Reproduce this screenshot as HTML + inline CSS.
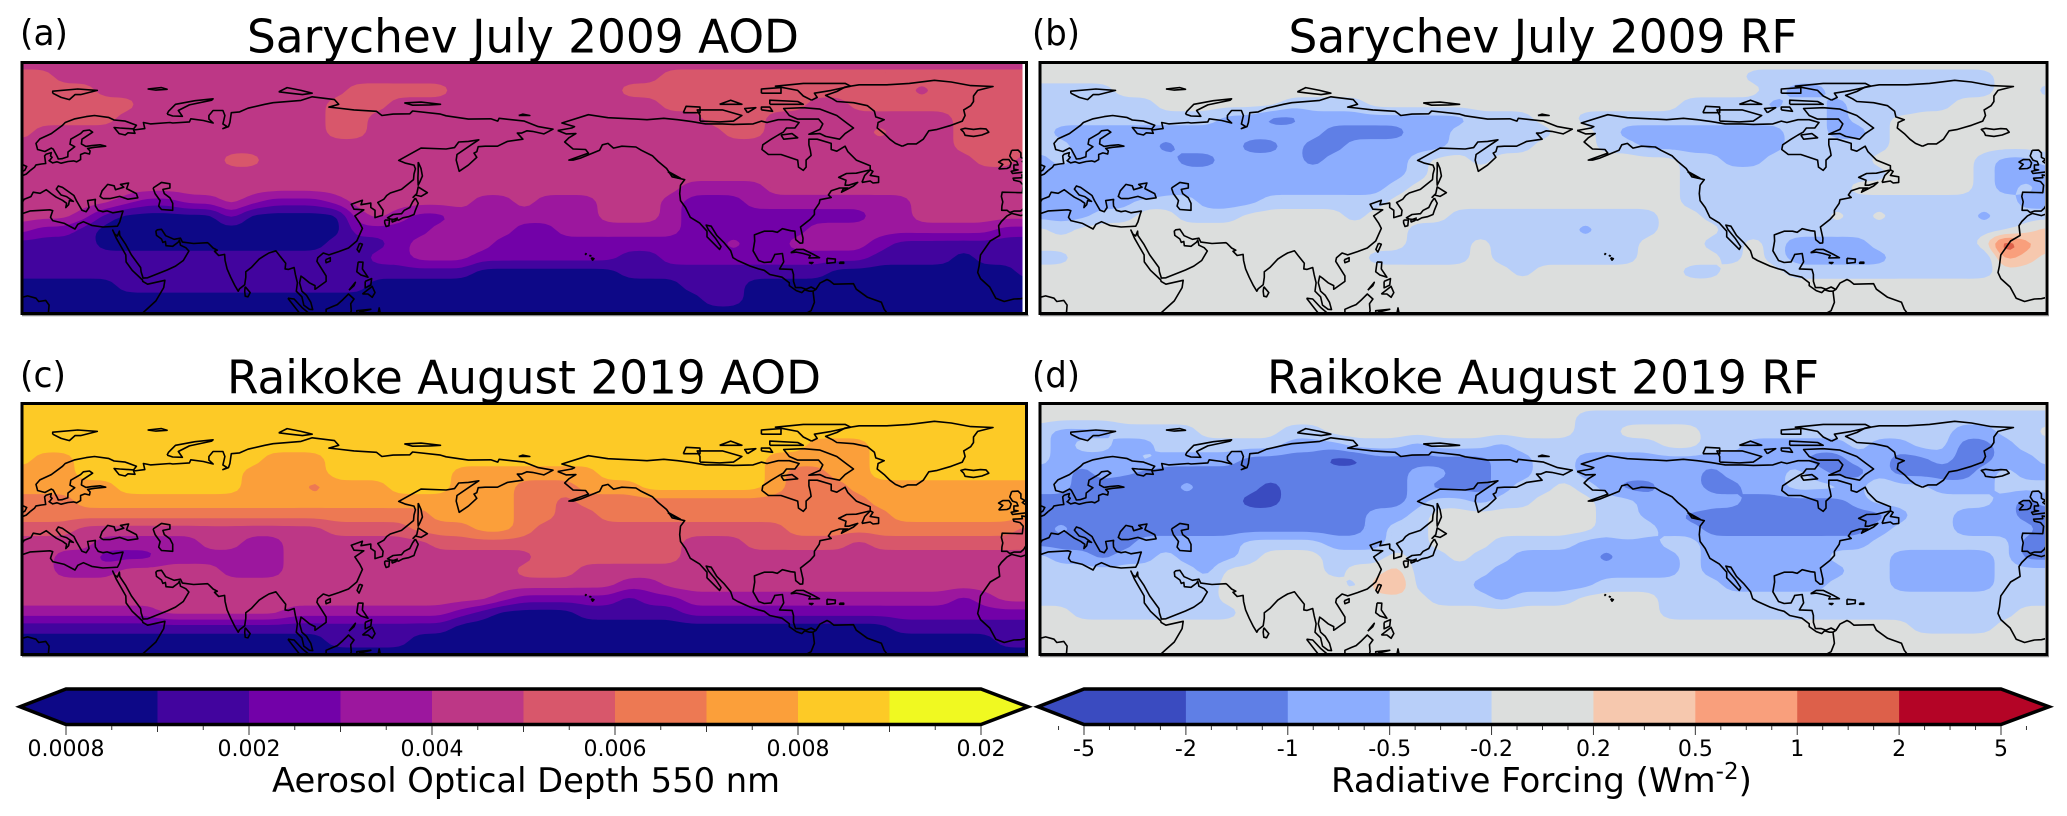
<!DOCTYPE html>
<html lang="en">
<head>
<meta charset="utf-8">
<title>Sarychev and Raikoke AOD and radiative forcing</title>
<style>
html,body{margin:0;padding:0;background:#fff;}
svg{display:block;}
text{font-family:"DejaVu Sans","Liberation Sans",sans-serif;fill:#000;}
</style>
</head>
<body>
<svg id="figure" xmlns="http://www.w3.org/2000/svg" width="2067" height="816" viewBox="0 0 2067 816">
<rect x="0" y="0" width="2067" height="816" fill="#ffffff"/>
<g id="panels"></g>
<g id="colorbars"></g>
<text x="20" y="45" font-size="36" textLength="48" lengthAdjust="spacingAndGlyphs">(a)</text>
<text x="1032" y="45" font-size="36" textLength="48" lengthAdjust="spacingAndGlyphs">(b)</text>
<text x="20" y="387" font-size="36" textLength="46" lengthAdjust="spacingAndGlyphs">(c)</text>
<text x="1032" y="387" font-size="36" textLength="48" lengthAdjust="spacingAndGlyphs">(d)</text>
<text x="523" y="52.5" font-size="46" text-anchor="middle" textLength="552" lengthAdjust="spacingAndGlyphs">Sarychev July 2009 AOD</text>
<text x="1543" y="52.5" font-size="46" text-anchor="middle" textLength="509" lengthAdjust="spacingAndGlyphs">Sarychev July 2009 RF</text>
<text x="524" y="393.5" font-size="46" text-anchor="middle" textLength="594" lengthAdjust="spacingAndGlyphs">Raikoke August 2019 AOD</text>
<text x="1543" y="393.5" font-size="46" text-anchor="middle" textLength="552" lengthAdjust="spacingAndGlyphs">Raikoke August 2019 RF</text>
<text x="526" y="792" font-size="34" text-anchor="middle" textLength="508" lengthAdjust="spacingAndGlyphs">Aerosol Optical Depth 550 nm</text>
<text x="1331" y="792" font-size="34">Radiative Forcing (Wm<tspan dy="-13" font-size="23">-2</tspan><tspan dy="13">)</tspan></text>
</svg>
<script>
// Colour-band index of each grid point. Rows run 90N to 0, columns 0 to 360E.
const gridLats = [90,85,80,75,70,65,60,55,50,45,40,35,30,25,20,15,10,5,0];
const gridLons = [0,7.5,15,22.5,30,37.5,45,52.5,60,67.5,75,82.5,90,97.5,105,112.5,120,127.5,135,142.5,150,157.5,165,172.5,180,187.5,195,202.5,210,217.5,225,232.5,240,247.5,255,262.5,270,277.5,285,292.5,300,307.5,315,322.5,330,337.5,345,352.5,360];

const aodBounds = [0.0008,0.001,0.002,0.003,0.004,0.005,0.006,0.007,0.008,0.009,0.02];
const aodTickLabels = ['0.0008','0.002','0.004','0.006','0.008','0.02'];
const aodColors = ['#0d0887','#42049e','#7201a8','#9c179e','#bd3786','#d8576b','#ed7953','#fb9f3a','#fdca26','#f0f921'];
const rfBounds = [-5,-2,-1,-0.5,-0.2,0.2,0.5,1,2,5];
const rfTickLabels = ['-5','-2','-1','-0.5','-0.2','0.2','0.5','1','2','5'];
const rfColors = ['#3a4bc0','#5f7fe6','#8cadfe','#b8cff9','#dcdedd','#f6c8ae','#f99f7c','#dd604a','#b40426'];

const sarychevAod = [
[4,4,4,4,4,4,4,4, 4,4,4,4,4,4,4,4, 4,4,4,4,4,4,4,4, 4,4,4,4,4,4,4,4, 4,4,4,4,4,4,4,4, 4,4,4,4,4,4,4,4, 4],
[5,5,4,4,4,4,4,4, 4,4,4,4,4,4,4,4, 4,4,4,4,4,4,4,4, 4,4,4,4,4,4,4,5, 5,5,5,5,5,5,5,5, 5,5,5,5,5,5,5,5, 5],
[5,5,5,5,4,4,4,4, 4,4,4,4,4,4,4,4, 5,5,5,5,5,4,4,4, 4,4,4,4,4,5,5,5, 5,5,5,5,5,5,5,5, 5,5,5,4,5,5,5,5, 5],
[5,5,5,5,5,5,4,4, 4,4,4,4,4,4,4,5, 5,5,4,4,4,4,4,4, 4,4,4,4,4,4,4,5, 5,5,5,5,5,5,4,4, 5,5,5,5,5,5,5,5, 5],
[5,5,5,5,5,4,4,4, 4,4,4,4,4,4,4,5, 5,4,4,4,4,4,4,4, 4,4,4,4,4,4,4,4, 4,5,5,5,4,4,4,4, 4,4,4,4,4,5,5,5, 5],
[5,4,4,4,4,4,4,4, 4,4,4,4,4,4,4,5, 5,4,4,4,4,4,4,4, 4,4,4,4,4,4,4,4, 4,4,5,5,4,4,4,4, 4,5,4,4,4,5,5,5, 5],
[4,4,4,4,4,4,4,4, 4,4,4,4,4,4,4,4, 4,4,4,4,4,4,4,4, 4,4,4,4,4,4,4,4, 4,4,4,4,4,4,4,4, 4,4,4,4,4,5,5,5, 5],
[4,4,4,4,4,4,4,4, 4,4,5,5,4,4,4,4, 4,4,4,4,4,4,4,4, 4,4,4,4,4,4,4,4, 4,4,4,4,4,4,4,4, 4,4,4,4,4,4,5,5, 4],
[4,4,4,4,4,4,4,4, 4,4,4,4,4,4,4,4, 4,4,4,4,4,4,4,4, 4,4,4,4,4,4,4,4, 4,4,4,4,4,4,4,4, 4,4,4,4,4,4,4,4, 4],
[4,4,4,4,4,4,4,4, 4,4,4,4,4,4,4,4, 4,4,4,4,4,4,4,4, 4,4,4,4,4,4,4,4, 3,3,3,3,4,4,4,4, 4,4,4,4,4,4,4,4, 4],
[4,4,4,4,4,3,2,2, 3,3,4,3,2,2,2,3, 4,4,4,4,4,4,3,3, 4,3,3,3,4,4,4,3, 2,2,2,3,3,3,3,3, 3,3,3,4,4,4,4,4, 4],
[4,4,4,3,1,0,0,0, 0,0,2,0,0,0,0,0, 3,4,3,2,2,3,3,3, 3,3,3,3,4,4,4,3, 2,2,2,2,2,2,2,2, 2,3,3,4,4,4,4,4, 4],
[3,2,2,1,0,0,0,0, 0,0,0,0,0,0,0,0, 2,2,2,2,3,3,3,3, 2,2,3,3,3,3,3,3, 2,2,2,2,2,2,3,3, 3,3,3,3,3,3,3,2, 2],
[1,1,1,1,0,0,0,0, 0,0,0,0,0,0,0,1, 1,1,2,3,3,3,3,2, 2,2,2,2,2,2,2,2, 2,2,3,2,2,3,3,3, 3,2,1,1,1,1,1,1, 1],
[1,1,1,1,1,1,1,1, 1,1,1,1,1,1,1,1, 1,2,2,3,3,3,2,2, 2,2,2,2,2,1,1,2, 2,2,2,2,2,2,2,2, 2,1,1,1,1,0,1,1, 1],
[1,1,1,1,1,1,1,1, 1,1,1,1,1,1,1,1, 1,1,1,1,1,1,0,0, 0,0,0,0,0,1,1,1, 1,1,1,1,1,1,1,0, 0,0,0,0,0,0,0,0, 1],
[0,0,0,0,0,1,1,1, 1,1,1,1,1,1,1,1, 1,0,0,0,0,0,0,0, 0,0,0,0,0,0,0,0, 1,1,1,0,0,0,0,0, 0,0,0,0,0,0,0,0, 0],
[0,0,0,0,0,0,0,0, 0,0,0,0,0,0,0,0, 0,0,0,0,0,0,0,0, 0,0,0,0,0,0,0,0, 0,1,1,0,0,0,0,0, 0,0,0,0,0,0,0,0, 0],
[0,0,0,0,0,0,0,0, 0,0,0,0,0,0,0,0, 0,0,0,0,0,0,0,0, 0,0,0,0,0,0,0,0, 0,0,0,0,0,0,0,0, 0,0,0,0,0,0,0,0, 0]
];

const sarychevRf = [
[4,4,4,4,4,4,4,4, 4,4,4,4,4,4,4,4, 4,4,4,4,4,4,4,4, 4,4,4,4,4,4,4,4, 4,4,4,4,4,4,4,4, 4,4,4,4,4,4,4,4, 4],
[4,4,4,4,4,4,4,4, 4,4,4,4,4,4,4,4, 4,4,4,4,4,4,4,4, 4,4,4,4,4,4,4,4, 4,4,3,3,3,3,3,3, 3,3,3,3,3,3,4,4, 4],
[3,3,3,3,4,4,4,4, 4,4,4,4,4,4,4,4, 4,4,4,4,4,4,4,4, 4,4,4,4,4,4,4,4, 4,4,4,3,2,2,3,3, 3,3,3,3,3,3,4,4, 3],
[3,3,3,3,3,3,4,4, 4,4,4,4,3,3,3,3, 4,4,4,4,4,4,4,4, 4,4,4,4,4,4,4,3, 3,3,3,2,3,3,2,3, 3,2,3,3,4,4,4,4, 4],
[3,3,3,3,3,3,3,3, 3,2,2,1,1,2,2,2, 2,2,2,2,2,3,3,3, 4,4,3,3,3,3,3,3, 3,3,3,3,3,3,2,3, 3,4,4,4,4,4,4,4, 4],
[3,2,2,2,2,2,2,2, 2,2,2,2,2,2,1,1, 1,1,2,2,3,3,3,3, 3,4,4,3,2,2,2,2, 2,2,2,2,3,3,2,2, 3,4,4,4,4,4,4,4, 4],
[3,3,2,2,2,2,1,2, 2,2,1,1,2,1,1,2, 2,2,2,2,3,3,3,3, 4,4,4,3,3,2,2,2, 2,2,2,2,3,3,3,3, 3,4,4,4,4,4,4,4, 4],
[2,3,2,2,2,2,2,1, 1,2,2,2,2,1,2,2, 2,2,3,4,4,3,4,4, 4,4,4,4,4,4,4,3, 3,2,2,3,3,3,3,3, 4,4,4,4,4,3,2,2, 3],
[2,2,2,2,2,2,2,2, 2,2,2,2,2,2,2,2, 2,2,3,4,4,4,4,4, 4,4,4,4,4,4,4,3, 3,3,3,3,3,3,3,3, 3,4,4,4,4,3,2,2, 2],
[2,2,2,2,2,1,2,2, 2,2,2,2,2,2,2,2, 2,3,4,4,4,4,4,4, 4,4,4,4,4,4,4,3, 3,3,3,3,3,3,3,4, 4,4,4,4,4,3,2,3, 2],
[2,2,2,2,2,3,3,3, 2,2,2,3,3,3,3,3, 3,4,4,4,4,4,4,4, 4,4,4,4,4,4,4,3, 3,3,3,3,3,3,3,3, 3,3,3,3,3,3,3,2, 2],
[2,2,2,3,3,4,4,3, 3,3,4,4,4,4,4,3, 4,4,4,4,3,3,3,3, 3,3,3,3,3,3,4,4, 3,3,3,3,3,3,4,3, 4,3,3,3,3,2,3,3, 3],
[4,3,4,4,4,4,4,4, 4,4,4,4,4,4,4,4, 4,4,3,3,3,3,3,3, 3,3,2,3,3,3,4,4, 4,3,3,3,3,3,3,3, 3,3,3,3,3,3,3,4, 5],
[4,4,4,4,4,4,4,4, 4,4,4,4,4,4,4,4, 4,4,3,3,3,4,3,3, 3,3,3,3,3,4,4,4, 3,3,4,3,2,2,2,2, 3,3,3,3,3,4,8,6, 5],
[3,3,4,4,4,4,4,4, 4,4,4,4,4,4,4,4, 3,3,3,3,3,4,3,3, 3,3,3,3,3,4,4,4, 4,3,4,3,2,2,2,2, 2,3,3,3,3,2,6,5, 4],
[4,4,4,4,4,4,4,4, 4,4,4,4,4,4,4,4, 4,4,4,4,4,4,4,3, 4,4,4,4,4,4,4,3, 3,4,4,4,3,3,3,3, 3,3,3,3,3,3,4,4, 4],
[4,4,4,4,4,4,4,4, 4,4,4,4,4,4,4,4, 4,4,4,4,4,4,4,4, 4,4,4,4,4,4,4,4, 4,4,4,4,4,4,4,4, 4,4,4,4,4,4,4,4, 4],
[4,4,4,4,4,4,4,4, 4,4,4,4,4,4,4,4, 4,4,4,4,4,4,4,4, 4,4,4,4,4,4,4,4, 4,4,4,4,4,4,4,4, 4,4,4,4,4,4,4,4, 4],
[4,4,4,4,4,4,4,4, 4,4,4,4,4,4,4,4, 4,4,4,4,4,4,4,4, 4,4,4,4,4,4,4,4, 4,4,4,4,4,4,4,4, 4,4,4,4,4,4,4,4, 4]
];

const raikokeAod = [
[8,8,8,8,8,8,8,8, 8,8,8,8,8,8,8,8, 8,8,8,8,8,8,8,8, 8,8,8,8,8,8,8,8, 8,8,8,8,8,8,8,8, 8,8,8,8,8,8,8,8, 8],
[8,8,8,8,8,8,8,8, 8,8,8,8,8,8,8,8, 8,8,8,8,8,8,8,8, 8,8,8,8,8,8,8,8, 8,8,8,8,8,8,8,8, 8,8,8,8,8,8,8,8, 8],
[8,8,8,8,8,8,8,8, 8,8,8,8,8,8,8,8, 8,8,8,8,8,8,8,8, 8,8,8,8,8,8,8,8, 8,8,8,8,8,8,8,8, 8,8,8,8,8,8,8,8, 8],
[8,8,8,8,8,8,8,8, 8,8,8,8,8,8,8,8, 8,8,8,8,8,8,8,8, 8,8,8,8,8,8,8,8, 8,8,8,8,8,8,7,7, 7,8,8,8,8,8,8,8, 8],
[8,7,7,8,8,8,8,8, 8,8,8,8,7,7,7,8, 8,8,8,8,8,8,8,8, 8,8,8,8,8,8,8,8, 8,8,8,8,7,7,7,7, 7,8,8,8,8,8,8,8, 8],
[7,7,7,8,8,8,8,8, 8,8,8,7,7,7,7,8, 8,8,8,8,8,7,7,7, 7,7,7,7,8,8,8,8, 8,8,8,8,7,6,6,7, 7,8,8,8,8,8,8,8, 8],
[7,7,7,7,7,8,8,8, 8,8,8,7,7,7,6,7, 7,7,8,8,8,7,7,7, 6,6,6,7,7,7,8,8, 8,8,8,8,7,6,6,6, 7,7,7,7,7,7,7,7, 7],
[6,6,6,7,7,7,7,7, 7,7,7,7,7,7,7,7, 7,7,7,7,7,7,7,7, 6,6,5,6,6,6,6,6, 6,6,6,6,6,6,6,6, 6,7,7,7,7,7,7,7, 7],
[6,6,6,6,6,6,6,6, 6,6,6,6,6,6,6,6, 6,6,6,6,7,7,7,7, 6,6,5,5,6,6,6,6, 6,6,6,6,6,6,6,6, 6,6,7,7,7,7,7,7, 7],
[5,5,5,4,4,4,4,4, 4,4,4,4,4,4,4,5, 5,5,5,6,6,6,7,7, 6,5,5,5,5,5,5,5, 5,5,5,5,5,6,6,6, 6,6,6,6,6,6,6,6, 5],
[4,4,4,4,3,3,3,3, 3,4,4,3,3,4,4,4, 4,4,4,4,5,5,5,5, 5,5,5,5,5,5,5,5, 4,4,4,5,5,5,5,5, 4,5,5,5,5,5,5,5, 5],
[4,4,3,3,2,2,2,3, 3,3,3,3,3,4,4,4, 4,4,4,4,4,4,4,4, 4,5,5,5,5,5,5,5, 4,4,4,4,4,4,4,4, 4,4,4,4,4,4,4,4, 4],
[4,4,3,3,3,4,4,4, 4,4,3,3,3,4,4,4, 4,4,4,4,4,4,4,4, 5,5,5,4,4,4,4,4, 4,4,4,4,4,4,4,4, 4,4,4,4,4,4,4,4, 4],
[4,4,4,4,4,4,4,4, 4,4,4,4,4,4,4,4, 4,4,4,4,4,4,4,4, 4,4,4,4,4,3,3,4, 4,4,4,4,4,4,4,4, 4,4,4,4,4,4,4,4, 4],
[4,4,4,4,4,4,4,4, 4,4,4,4,4,4,4,4, 4,4,4,4,4,4,4,3, 2,2,2,2,2,1,2,2, 3,3,3,3,3,3,3,3, 3,3,3,3,3,2,3,4, 4],
[3,3,3,3,3,3,3,4, 4,4,4,4,4,3,3,3, 3,3,3,3,3,2,1,0, 0,0,0,1,1,1,1,1, 2,2,2,2,2,2,2,2, 2,2,2,2,2,2,2,2, 2],
[1,1,1,1,1,1,1,1, 1,1,1,1,1,1,1,1, 1,1,1,1,1,0,0,0, 0,0,0,0,0,0,0,0, 0,0,0,0,0,0,0,0, 0,0,1,1,1,1,1,1, 1],
[0,0,0,0,0,0,0,0, 0,0,0,0,0,0,0,1, 1,1,1,0,0,0,0,0, 0,0,0,0,0,0,0,0, 0,0,0,0,0,0,0,0, 0,0,0,0,0,0,0,1, 1],
[0,0,0,0,0,0,0,0, 0,0,0,0,0,0,0,0, 0,0,0,0,0,0,0,0, 0,0,0,0,0,0,0,0, 0,0,0,0,0,0,0,0, 0,0,0,0,0,0,0,0, 0]
];

const raikokeRf = [
[4,4,4,4,4,4,4,4, 4,4,4,4,4,4,4,4, 4,4,4,4,4,4,4,4, 4,4,4,4,4,4,4,4, 4,4,4,4,4,4,4,4, 4,4,4,4,4,4,4,4, 4],
[4,4,4,4,4,4,4,4, 4,4,4,4,4,4,4,4, 4,4,4,4,4,4,4,4, 4,4,3,3,3,3,3,3, 3,3,3,3,3,3,3,3, 3,3,3,3,3,3,3,3, 3],
[3,2,2,2,3,3,3,3, 4,4,4,4,3,3,4,4, 4,4,4,4,4,4,4,4, 4,4,3,3,4,4,4,4, 3,3,3,3,3,3,3,3, 3,3,3,3,2,2,3,3, 4],
[3,2,3,3,2,2,3,3, 3,3,3,3,2,2,2,3, 3,3,2,3,3,3,2,3, 3,3,3,3,3,3,4,4, 3,3,2,2,2,2,2,3, 2,2,3,3,1,1,2,3, 3],
[3,2,2,2,2,3,2,2, 2,2,1,1,1,1,0,0, 1,1,1,1,1,1,2,2, 3,3,2,2,2,2,2,2, 2,2,2,2,2,1,1,2, 2,1,1,2,1,1,2,2, 3],
[2,2,1,2,2,1,1,1, 1,1,1,1,1,1,1,1, 1,1,2,2,1,1,2,2, 3,3,2,2,2,2,2,2, 1,2,2,2,3,2,1,1, 2,1,1,1,1,2,3,2, 2],
[2,2,1,1,0,1,1,2, 1,1,1,0,1,1,1,1, 1,1,2,1,1,1,2,3, 3,4,3,2,1,1,2,2, 1,1,2,2,3,3,3,2, 4,3,3,2,2,2,3,3, 3],
[1,1,1,1,1,1,1,1, 1,1,0,0,1,1,1,1, 1,1,2,3,3,2,3,3, 4,4,4,3,3,2,2,3, 2,2,1,1,1,1,1,2, 3,3,3,3,3,3,2,1, 2],
[1,1,1,1,1,1,1,1, 1,1,1,1,1,1,1,1, 2,2,3,4,4,4,4,4, 4,4,4,3,3,2,2,1, 1,1,1,1,1,1,1,1, 1,2,3,3,2,2,2,1, 1],
[1,2,1,1,1,1,1,1, 1,1,1,1,1,1,1,1, 2,3,3,4,4,4,4,4, 4,4,4,3,4,3,2,2, 1,1,1,1,1,1,1,1, 2,3,3,3,2,2,2,2, 1],
[1,1,1,1,1,2,2,2, 2,2,3,3,3,3,2,2, 2,3,3,4,4,4,3,3, 3,3,2,2,2,2,3,3, 2,2,2,2,2,2,2,2, 3,3,3,3,3,3,3,1, 1],
[3,2,2,1,2,2,3,2, 2,2,3,4,4,4,3,3, 3,4,3,3,4,3,3,2, 2,2,2,1,2,2,2,3, 2,2,2,2,2,2,3,3, 3,2,2,2,2,2,3,1, 1],
[3,3,3,3,3,3,3,3, 2,4,4,4,4,4,3,4, 4,5,3,3,3,3,2,2, 2,2,2,2,2,2,2,3, 2,2,2,2,2,2,2,3, 3,2,2,2,2,2,3,3, 3],
[3,3,3,3,3,3,3,3, 3,4,4,4,4,4,4,3, 5,6,3,3,3,2,2,2, 2,2,2,3,3,3,3,3, 3,2,2,2,2,2,3,3, 3,2,2,2,2,2,3,3, 3],
[3,3,3,3,3,3,3,3, 3,4,4,4,4,4,4,4, 4,4,4,3,3,3,2,3, 3,3,4,4,4,4,3,3, 3,3,3,3,3,3,3,3, 3,3,3,3,3,3,3,3, 3],
[4,4,3,3,3,3,3,3, 3,3,4,4,4,4,4,4, 4,4,4,4,4,4,4,4, 4,4,4,4,4,4,3,3, 3,3,3,3,3,3,3,3, 3,3,3,3,3,3,3,4, 4],
[4,4,4,4,4,4,4,4, 4,4,4,4,4,4,4,4, 4,4,4,4,4,4,4,4, 4,4,4,4,4,4,4,4, 4,4,4,4,4,4,4,4, 4,4,3,3,3,3,4,4, 4],
[4,4,4,4,4,4,4,4, 4,4,4,4,4,4,4,4, 4,4,4,4,4,4,4,4, 4,4,4,4,4,4,4,4, 4,4,4,4,4,4,4,4, 4,4,4,4,4,4,4,4, 4],
[4,4,4,4,4,4,4,4, 4,4,4,4,4,4,4,4, 4,4,4,4,4,4,4,4, 4,4,4,4,4,4,4,4, 4,4,4,4,4,4,4,4, 4,4,4,4,4,4,4,4, 4]
];

// Coastlines as flat lon,lat lists.
const coastlines = [
[3,51.3,4.5,52.5,5,53.3,7,53.6,8.5,53.8,8.3,55,8.1,56.5,8.6,57.1,10.5,57.7,10.2,56.5,10.8,56,10,55,9.7,54.8,11,54,12.5,54.4,14,53.9,16.5,54.5,18.5,54.7,19.6,54.4,21,55.2,21,57,22.5,57.6,24.2,57.2,24.4,58.3,23.5,59.2,26,59.6,30,60,28,60.5,25,60.2,22.9,59.9,21.3,60.8,21.5,62.5,25.3,65,24.2,65.8,22,65.5,21,64.5,17.5,62.5,17.2,60.7,18.9,59.8,16.5,57.9,16.4,56.2,14.3,55.5,13,55.4,12.6,56.3,11.2,58.9,10.5,59.3,8.2,58.1,5.6,58.8,5,61,6.4,62.6,10.5,64.5,14.5,67.5,15.5,68.5,19,69.8,23,70.6,26,71,31,70.3,33,69.4,37,69,41,67.5,40,66.2,35,66.5,33,66.7,34.8,64.5,37,64,38,64.8,40.5,64.6,40,65.8,44,66.3,43.5,68.5,46,68,53,68.5,54,68.3,60,68.7,60.5,69.8,65,69.2,68.5,68.3,67,69.7,67,71,68.5,72.8,72,72.8,72.7,71,72,68,73.5,67,72,66.3,74,67,74.5,68.5,75,72,78,72.3,81,73.6,87,75,90,75.6,100,76.4,104,77.7,112,76.7,113.5,75,110,74,113,73.7,119,73,127,72.5,129,71,133,71.5,139,71.6,140,72.6,150,71.5,152,70.9,160,69.7,168,69.8,170.5,69,171,70,180,69,185,67,190.3,66.1,187,64.4,183,65.3,181,65.5,179,64.7,177.5,64.7,179.5,62.5,174,61.7,170.4,60,166,60,163.5,59.8,163,58,162,57.5,163,56,160,53.2,156.7,51,155.6,55,155.9,57,161,60.5,163.7,62.3,160,61.7,156.5,61.5,155,59.5,152,59,143,59.3,135,54.9,137.5,53.9,140.5,53.2,141,51.9,140.5,50,140.3,48,136,44.5,132,43.2,130.7,42.3,129.7,41,127.5,39.8,129.4,37,129.2,35.2,126.5,34.4,126.5,37,125,38,125,39.6,121.5,39,122,40.6,118,39.2,119,37.4,122.5,37.2,119.3,35,121,32.5,122,30.5,120,26,117,23.5,113.5,22.2,110,21,108,21.7,106,20,105.7,18.7,109,13.5,109,11.5,105.5,9,105,8.7,105,10,103,11,101,12.7,100,13.4,99.5,11,100.3,8,102,6.5,103.5,4,104.2,1.4,103,1.5,101,3,100.3,6,98.3,8,98.7,11,98,14,97.5,16.5,95.5,15.8,94.3,16,94.5,18,92.5,20.5,91,22.5,88.5,21.7,86.8,20.7,85,19.5,82.3,16.6,80.2,15,80.2,13,79.8,10.3,78,8.9,77.5,8,76.3,10,74.8,13,73.5,16,72.8,19,72.6,21.2,70.5,20.8,69,22.3,70,22.7,68.5,23.5,67,25,66.5,25.4,61.5,25.1,57.5,25.6,56.8,27,54.5,26.6,51.5,27.9,50,30.2,48.5,30,48,29.5,48.2,28,50,26.7,50.5,25.5,51.4,25.8,51.6,24.3,54,24.1,56,25.6,56.4,26.3,56.8,24.5,58.7,23.6,59.8,22.4,57.8,19,55,17,52,15.6,45,12.8,43.4,12.7,42.7,15,42.5,16.5,39.2,21,37.2,24.7,35,28,34.9,29.5,34.2,27.8,33.2,28.5,32.5,29.9,33.8,27,35.5,24,37.2,21,37.3,18.5,39.5,15.5,43.2,12,43.3,11.5,45,10.5,51.2,11.9,50.8,9.3,48,4.5,45,1.8,42.5,-0.5],
[0,35.8,3,36.8,10,37.2,11,36.9,10.2,34.5,11,33.3,15.2,32.3,19,30.3,20,32,22,32.9,25,31.6,29,31,32.3,31.2,34.2,31.3,35,32.8,35.8,35.5,36.2,36.7,32.5,36.1,30.5,36.8,29,36.5,27.3,37,26.3,38.5,26.2,40,26.3,40.9,23.5,40.5,24,38,23,36.5,21.5,37,19.5,40.5,18.6,42.3,14.5,45.2,13,45.7,12.3,44.6,14,42.5,16,41.9,18.4,40.2,17,40.5,16.7,39,15.7,38,16,39.5,14.5,40.6,12.3,41.7,10.5,43,8.7,44.4,6.5,43.1,4,43.5,3.2,41.9,0.8,41,0,39.7],
[360,39.7,359.7,38.9,359,37.7,357.9,36.7,355.5,36.7,354,36.2,353,37,351.1,37,351.2,38.5,351.5,40,351,42,351.3,43.5,356,43.4,358.5,43.3,358.8,46,357.7,47.3,355.5,47.8,355.2,48.5,358.5,48.7,358.3,49.7,360,49.4],
[0,49.4,1.5,50,3,51.3],
[29,41.2,31.5,41.2,35,42,38,41,41.5,41.5,41,43,37.5,44.8,38.2,46.8,35.3,46.3,36.5,45.3,33.5,44.4,33,45.8,30.7,46.3,28.7,44,28,42,29,41.2],
[47,45,50,47,53,46.5,53,45,50.5,44.5,51,43,53,41.5,54,39.5,54,37,50,37.3,49,38.5,49.5,40.5,47.7,43,47,45],
[360,35.8,358,35.1,354.7,35.9,353,35,351,33,350,31.5,350.4,28,347,26,343.5,21,343,17,342.5,14.7,343.5,12.5,346.8,9.5,349,5.5,352,4.3,355.5,5.2,358,5.3,360,5.8],
[0,5.8,2,6.3,5,5.5,6,4.3,8.5,4.7,9.7,3,9.4,-0.5],
[192,65.6,197,66.5,198,67,193.5,68.3,203,71.3,210,70.2,220,69.7,224,69.5,230,70,235,69.5,240,68.8,245,68,251,68,255,67.8,262,68,265,69,267,68.5,271,69.5,275,69.5,278.5,68.5,277,66.5,274,66.5,272.8,65,271,64,268.5,62.5,265.5,60.5,265.2,58.8,267.5,57,272,57,278,55,278.3,52.5,280,51.3,281,52.5,281,55,282.8,56.7,282.5,58.5,282,60.5,282,62.5,285,62.5,290,61,290,58.8,292,58.2,295,60,296,58,299,55,304,53,304,51.5,299,50.3,295.5,50.2,292.7,48.8,295.3,47.8,295,46,296.3,46,299.5,47,298,45.7,293.7,43.5,294.3,44.6,296,45,293,45,290,44,289,42.5,290,41.6,286,40.8,285.7,39.5,284,37,284,35.5,282.5,33.8,279,31,279.9,27,279.8,25.3,278.9,25.2,277.3,26.5,277,29.5,275.5,29.7,272.5,30.4,270.7,29.1,269,29.5,266,29.5,262.5,28.2,262.6,26,262,22.5,264,19,266,18.3,268.5,18.5,269.5,20.5,269.8,21.2,272.5,21.5,273,18.5,271.5,16,276,15.8,276.5,14,276.5,11.5,277.2,9.3,279.3,9.3,281,8.7,282.8,9.5,284.5,8.6,283.5,8,284,4,282.8,1,280,-0.5],
[284.5,8.6,286,10.9,288.5,12.2,289.5,11.7,291,10.5,298,10.7,299,8.7,303,5.8,308,4,309,1.5,310.5,-0.5],
[192,65.6,195,64.4,198.5,64.5,196,63,194.5,61.5,197.5,59,202,58.8,203,57.5,196,55,197.5,55,200,55.7,207,58.5,208,60.5,210,61,212,59.3,215,60,220,59.7,222,58.5,226,56.5,228,54.5,231,52,233,49,237.5,48,236,46,235.7,43,236,40.5,237.8,38,239.5,34.5,242.8,32.5,245.5,29.5,245.5,27.5,248,25,250,23,250.5,24,248.5,27,246,30,245.2,31.7,247,31.3,249,28,251.5,25.5,254,22.5,254.8,20,256.5,19,261,17,264,16,266,15.5,268,14,272.4,13,275,11,275,10,277.5,8.2,279.5,7.5,280.5,8.5,282.2,8,283.5,8],
[315.5,60,317.5,60.8,320.5,60.8,323,62.5,325,65.5,328,66,333,67.5,337,69,338,71,337.5,73,340,74.5,341,76,341,78,342.5,80,348,81.4,340,81.7,333,83,327,83.6,318,82.5,310,82,300,82,295,81.2,292,79.6,288,78.2,290.5,77,292,76,298,75.6,303,74.5,305.5,72.5,306,70.5,309,69.5,306.8,68.5,306.5,66.5,309,64.5,311,62.5,313,61,315.5,60],
[337.5,65,336.5,66,338,66.4,341,66,343.5,66.3,345.5,66.2,346.5,65,344,64,341,63.5,338,63.9,337.5,65],
[354.7,58.5,357,58.6,358,57.6,358,56,359.5,55.2,358.5,54.5,360,53.5],
[0,53.5,1.7,52.7,1,51.4,0,50.8],
[360,50.8,355,50.2,354.5,51,357,51.5,355.5,51.7,355.5,53.3,357,53.3,356.5,54.5,355,55,354,56.5,354.7,58.5],
[350,51.8,351.5,53.5,350,54.3,351.5,55.2,353.7,55.2,354.5,54,354,52.5,353,52,350,51.8],
[11,79,14,77.5,17,76.7,19,78.5,21,78.5,27,80,20,80.5,11,79.7,11,79],
[45,80.5,48,80.1,52,80.4,50,81,45,80.5],
[52,71.5,54,70.8,57.5,70.7,56,72.8,60,74.8,68,76.5,68.5,77,62,76.3,55,75,52.5,72.5,52,71.5],
[92,79.5,95,81,100,80,104,79,100.5,78.5,96,79,92,79.5],
[137,75.5,143,75.8,150,75,146,74.8,140,74.7,137,75.5],
[178,71,182,71,179.5,71.5,178,71],
[142,54.3,143,52,143.5,49.3,142.5,47,142,46,141.9,48.5,142,51,142,54.3],
[140,41.5,141,42.5,143,42,145.3,43.3,142,45.4,141.5,43,140,41.5],
[141,41.4,142,39.5,141,37,140.5,35.5,138.5,34.7,136.5,34.3,135,33.5,132,33.9,131,34.3,133,35.5,136,35.8,137,37,139,38,140,40,141,41.4],
[130,33.5,131.7,33.5,131.5,31.5,130.5,31.2,130,32.5,130,33.5],
[132.5,33.5,134.5,34.2,134,33.3,132.7,32.8,132.5,33.5],
[121,25.2,122,24.8,120.8,22,120.1,23,121,25.2],
[108.8,19.3,110.5,20,110.5,18.8,109,18.2,108.8,19.3],
[120.5,18.5,122.2,18.4,122,16,124,13,121.5,13.8,120,15,120.5,18.5],
[122,7,125.5,9.7,126.5,7.5,125.5,5.8,124,7,122,7],
[123,11.5,125.3,12.5,125,10.2,123,9.2,123,11.5],
[117.2,8.4,119.5,11.2,119,10,117.2,8.4],
[109,-0.5,109,1.5,111.3,2.5,113,3.2,115,5,117,7,119,5.2,117.8,3.5,118,1,117.5,-0.5],
[95.3,5.5,97.5,5.2,100.5,2,103.5,-0.5],
[100,-0.5,98,2,95.3,5.5],
[120,-0.5,120,1,125,1.5,121,0.5,120,-0.5],
[127.5,-0.5,128,2,128.5,-0.5],
[80,9.6,81.8,7.5,81,6,80,6.2,79.8,8,80,9.6],
[275.5,21.8,277.5,23,280,23,284,21,285.8,20,282,19.9,282.5,20.8,280,21.5,277.5,22,275.5,21.8],
[288.5,19.8,291.5,19.5,291.4,18.3,288.5,18,288.5,19.8],
[282,18.3,283.5,18.3,283,17.9,282,18.3],
[293,18.4,294.5,18.4,294.5,18,293,18,293,18.4],
[204.1,20,205,19.7,204.5,19.1,204,20],
[201.8,21.5,202.2,21.4,202,21.2,201.8,21.5],
[203.4,20.9,203.9,20.7,203.6,20.6,203.4,20.9],
[301,47,302,49.5,304,51.5,305,51,304,49.5,307,49,307,47,305,46.8,304,47.5,301,47],
[231.5,50.8,235,48.6,236,48.5,232,50.7,231.5,50.8],
[280,73.8,286,73.3,292,71,296,68,298,66.5,295,64.5,293,62.5,288,63.5,286,64.5,282,64.3,286,66,287,68,285.5,69.7,278,69.7,275,71,273,73.5,280,73.8],
[243,69,250,68.7,255,69,258,71,251,73,242,73,243,71,243,69],
[237,72,243,72,243,74,238,74.3,237,72],
[283,76.5,280,78,278,80,270,81.5,280,82.5,295,82.5,297,81.5,290,80,284,79,285,77.5,283,76.5],
[268,75,280,75,278,76,268,76.5,268,75],
[265,73,269,72.5,268,74,265,74,265,73],
[272,64,276,64.5,278,63,273,62.5,272,64],
[265,79,272,79,272,81,265,80.5,265,79],
[250,75,258,75,254,76.5,250,75],
[260,72,263,73.8,259,73.5,260,72]
];

const SVGNS = 'http://www.w3.org/2000/svg';
const panelGroup = document.getElementById('panels');
const barGroup = document.getElementById('colorbars');

function lonToX(panel, lon) { return panel.x + lon / 360 * panel.w; }
function latToY(panel, lat) { return panel.y + (90 - lat) / 90 * panel.h; }

function softenOnce(field) {
  const nr = field.length, nc = field[0].length;
  const kernel = [0.25, 0.5, 0.25];
  const across = field.map(function (line) {
    return line.map(function (_, j) {
      return kernel[0] * line[Math.max(0, j - 1)] + kernel[1] * line[j] + kernel[2] * line[Math.min(nc - 1, j + 1)];
    });
  });
  return across.map(function (line, i) {
    return line.map(function (v, j) {
      return kernel[0] * across[Math.max(0, i - 1)][j] + kernel[1] * v + kernel[2] * across[Math.min(nr - 1, i + 1)][j];
    });
  });
}

function refineField(rows) {
  const f = 4, R = rows.length, C = rows[0].length;
  const nr = (R - 1) * f + 1, nc = (C - 1) * f + 1;
  let fine = [];
  for (let i = 0; i < nr; i++) {
    const a = Math.min(Math.floor(i / f), R - 2), s = i / f - a, line = [];
    for (let j = 0; j < nc; j++) {
      const b = Math.min(Math.floor(j / f), C - 2), t = j / f - b;
      line.push((1 - s) * ((1 - t) * rows[a][b] + t * rows[a][b + 1]) + s * ((1 - t) * rows[a + 1][b] + t * rows[a + 1][b + 1]));
    }
    fine.push(line);
  }
  for (let pass = 0; pass < 3; pass++) fine = softenOnce(fine);
  return fine;
}

function bandPath(panel, field, level) {
  const nr = field.length - 1, nc = field[0].length - 1;
  const lonStep = (gridLons[gridLons.length - 1] - gridLons[0]) / nc;
  const latStep = (gridLats[0] - gridLats[gridLats.length - 1]) / nr;
  const px = function (c) {
    return lonToX(panel, gridLons[0] + c[1] * lonStep).toFixed(1) + ' ' + latToY(panel, gridLats[0] - c[0] * latStep).toFixed(1);
  };
  const parts = [];
  for (let i = 0; i < nr; i++) {
    let runStart = -1;
    const flush = function (end) {
      if (runStart >= 0) {
        parts.push('M' + [[i, runStart], [i, end], [i + 1, end], [i + 1, runStart]].map(px).join('L') + 'Z');
        runStart = -1;
      }
    };
    for (let j = 0; j < nc; j++) {
      const corners = [[i, j], [i, j + 1], [i + 1, j + 1], [i + 1, j]];
      const above = corners.map(function (c) { return field[c[0]][c[1]] >= level; });
      if (above[0] && above[1] && above[2] && above[3]) {
        if (runStart < 0) runStart = j;
        continue;
      }
      flush(j);
      const pts = [];
      for (let k = 0; k < 4; k++) {
        const p = corners[k], q = corners[(k + 1) % 4];
        const vp = field[p[0]][p[1]], vq = field[q[0]][q[1]];
        if (vp >= level) pts.push(p);
        if ((vp >= level) !== (vq >= level)) {
          const u = (level - vp) / (vq - vp);
          pts.push([p[0] + u * (q[0] - p[0]), p[1] + u * (q[1] - p[1])]);
        }
      }
      if (pts.length >= 3) parts.push('M' + pts.map(px).join('L') + 'Z');
    }
    flush(nc);
  }
  return parts.join('');
}

function drawPanel(panel) {
  const g = document.createElementNS(SVGNS, 'g');
  
  
  panelGroup.appendChild(g);

  const clip = document.createElementNS(SVGNS, 'clipPath');
  clip.setAttribute('id', panel.name + '-clip');
  const clipRect = document.createElementNS(SVGNS, 'rect');
  clipRect.setAttribute('x', panel.x);
  clipRect.setAttribute('y', panel.y);
  clipRect.setAttribute('width', panel.w);
  clipRect.setAttribute('height', panel.h);
  clip.appendChild(clipRect);
  g.appendChild(clip);

  const inner = document.createElementNS(SVGNS, 'g');
  inner.setAttribute('clip-path', 'url(#' + panel.name + '-clip)');
  
  
  g.appendChild(inner);

  const base = document.createElementNS(SVGNS, 'rect');
  base.setAttribute('x', panel.x);
  base.setAttribute('y', panel.y);
  base.setAttribute('width', panel.w);
  base.setAttribute('height', panel.h);
  base.setAttribute('fill', panel.colors[0]);
  
  
  inner.appendChild(base);

  const field = refineField(panel.rows);
  for (let k = 1; k < panel.colors.length; k++) {
    const d = bandPath(panel, field, k - 0.5);
    if (!d) continue;
    const band = document.createElementNS(SVGNS, 'path');
    band.setAttribute('d', d);
    band.setAttribute('fill', panel.colors[k]);
    
    
    inner.appendChild(band);
  }

  coastlines.forEach(function (line) {
    const parts = [];
    for (let i = 0; i < line.length; i += 2) {
      parts.push(lonToX(panel, line[i]).toFixed(1) + ' ' + latToY(panel, line[i + 1]).toFixed(1));
    }
    const coast = document.createElementNS(SVGNS, 'path');
    coast.setAttribute('d', 'M' + parts.join('L'));
    coast.setAttribute('fill', 'none');
    coast.setAttribute('stroke', '#000');
    coast.setAttribute('stroke-width', '1.6');
    coast.setAttribute('stroke-linejoin', 'round');
    
    
    inner.appendChild(coast);
  });

  if (panel.gap) {
    const strip = document.createElementNS(SVGNS, 'rect');
    strip.setAttribute('x', panel.x + panel.w - panel.gap);
    strip.setAttribute('y', panel.y);
    strip.setAttribute('width', panel.gap);
    strip.setAttribute('height', panel.h);
    strip.setAttribute('fill', '#ffffff');
    
    
    inner.appendChild(strip);
  }

  const shadow = document.createElementNS(SVGNS, 'line');
  shadow.setAttribute('x1', panel.x);
  shadow.setAttribute('x2', panel.x + panel.w + 2);
  shadow.setAttribute('y1', panel.y + panel.h + 2);
  shadow.setAttribute('y2', panel.y + panel.h + 2);
  shadow.setAttribute('stroke', '#8a8a8a');
  shadow.setAttribute('stroke-width', '1.5');
  
  
  g.appendChild(shadow);

  const frame = document.createElementNS(SVGNS, 'rect');
  frame.setAttribute('x', panel.x);
  frame.setAttribute('y', panel.y);
  frame.setAttribute('width', panel.w);
  frame.setAttribute('height', panel.h);
  frame.setAttribute('fill', 'none');
  frame.setAttribute('stroke', '#000');
  frame.setAttribute('stroke-width', '3');
  
  
  g.appendChild(frame);
}

function drawColorbar(bar) {
  const g = document.createElementNS(SVGNS, 'g');
  
  
  barGroup.appendChild(g);
  const segments = bar.bounds.length - 1;
  const pos = function (idx) { return bar.x0 + idx / segments * (bar.x1 - bar.x0); };
  const mid = (bar.top + bar.bottom) / 2;

  const lowTip = document.createElementNS(SVGNS, 'polygon');
  lowTip.setAttribute('points', bar.x0 + ',' + bar.top + ' ' + bar.tipL + ',' + mid + ' ' + bar.x0 + ',' + bar.bottom);
  lowTip.setAttribute('fill', bar.colors[0]);
  
  
  g.appendChild(lowTip);

  const highTip = document.createElementNS(SVGNS, 'polygon');
  highTip.setAttribute('points', bar.x1 + ',' + bar.top + ' ' + bar.tipR + ',' + mid + ' ' + bar.x1 + ',' + bar.bottom);
  highTip.setAttribute('fill', bar.colors[bar.colors.length - 1]);
  
  
  g.appendChild(highTip);

  for (let i = 0; i < segments; i++) {
    const seg = document.createElementNS(SVGNS, 'rect');
    seg.setAttribute('x', pos(i));
    seg.setAttribute('y', bar.top);
    seg.setAttribute('width', pos(i + 1) - pos(i) + 0.5);
    seg.setAttribute('height', bar.bottom - bar.top);
    seg.setAttribute('fill', bar.colors[i]);
    
    
    g.appendChild(seg);
  }

  const outline = document.createElementNS(SVGNS, 'polygon');
  outline.setAttribute('points', [[bar.x0, bar.top], [bar.x1, bar.top], [bar.tipR, mid], [bar.x1, bar.bottom], [bar.x0, bar.bottom], [bar.tipL, mid]].map(function (p) { return p.join(','); }).join(' '));
  outline.setAttribute('fill', 'none');
  outline.setAttribute('stroke', '#000');
  outline.setAttribute('stroke-width', '3.5');
  
  
  g.appendChild(outline);

  const sub = bar.minorPerSegment;
  const from = bar.overhang ? -1 : 0, to = segments * sub + (bar.overhang ? 1 : 0);
  for (let t = from; t <= to; t++) {
    const x = pos(t / sub);
    const isBoundary = t >= 0 && t <= segments * sub && t % sub === 0;
    const isLabelled = isBoundary && (t / sub) % bar.labelEvery === 0;
    const len = isLabelled ? 9 : (isBoundary ? 6 : 4);
    const tick = document.createElementNS(SVGNS, 'line');
    tick.setAttribute('x1', x);
    tick.setAttribute('x2', x);
    tick.setAttribute('y1', bar.bottom + 1.5);
    tick.setAttribute('y2', bar.bottom + 1.5 + len);
    tick.setAttribute('stroke', '#333');
    tick.setAttribute('stroke-width', '1');
    
    
    g.appendChild(tick);
  }

  bar.labels.forEach(function (label, i) {
    const txt = document.createElementNS(SVGNS, 'text');
    txt.setAttribute('x', pos(i * bar.labelEvery));
    txt.setAttribute('y', 756);
    txt.setAttribute('font-size', '22');
    txt.setAttribute('text-anchor', 'middle');
    
    
    txt.textContent = label;
    g.appendChild(txt);
  });
}

drawPanel({ name: 'panel-a-sarychev-aod', rows: sarychevAod, colors: aodColors, x: 22, y: 62.5, w: 1004.5, h: 251, gap: 4 });
drawPanel({ name: 'panel-b-sarychev-rf', rows: sarychevRf, colors: rfColors, x: 1040, y: 62.5, w: 1007, h: 251, gap: 2 });
drawPanel({ name: 'panel-c-raikoke-aod', rows: raikokeAod, colors: aodColors, x: 22, y: 403.5, w: 1004.5, h: 251, gap: 1 });
drawPanel({ name: 'panel-d-raikoke-rf', rows: raikokeRf, colors: rfColors, x: 1040, y: 403.5, w: 1007, h: 251, gap: 2 });

drawColorbar({ name: 'aod-colorbar', bounds: aodBounds, colors: aodColors, labels: aodTickLabels, labelEvery: 2, minorPerSegment: 2, overhang: false, x0: 66, x1: 981, tipL: 20, tipR: 1028, top: 689, bottom: 724.5 });
drawColorbar({ name: 'rf-colorbar', bounds: rfBounds, colors: rfColors, labels: rfTickLabels, labelEvery: 1, minorPerSegment: 4, overhang: true, x0: 1084, x1: 2001, tipL: 1038, tipR: 2049, top: 689, bottom: 724.5 });
</script>
</body>
</html>
